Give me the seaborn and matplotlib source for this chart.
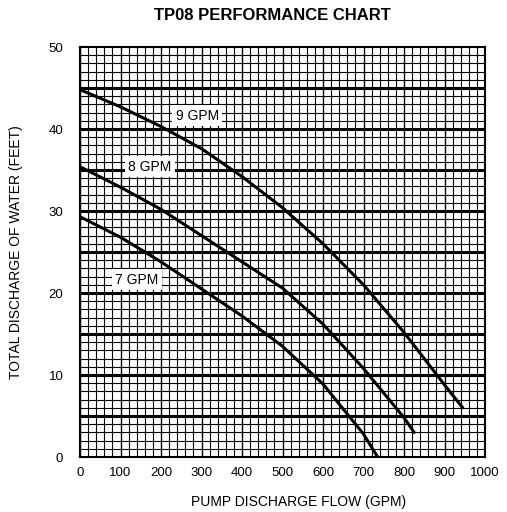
import pandas as pd
import numpy as np
import seaborn as sns
import matplotlib.pyplot as plt
from matplotlib.ticker import MultipleLocator

sns.set_style('white')
plt.rcParams['font.family'] = ['Liberation Sans', 'DejaVu Sans']
plt.rcParams['text.color'] = 'black'
plt.rcParams['axes.labelcolor'] = 'black'
plt.rcParams['xtick.color'] = 'black'
plt.rcParams['ytick.color'] = 'black'

# pump curves: flow (GPM) vs head (FEET)
flow_9 = [0, 100, 200, 300, 400, 500, 600, 700, 800, 900, 945]
head_9 = [44.8, 42.7, 40.3, 37.6, 34.2, 30.4, 26.0, 21.0, 15.2, 8.8, 6.0]
flow_8 = [0, 100, 200, 300, 400, 500, 600, 700, 800, 825]
head_8 = [35.4, 32.9, 30.2, 27.0, 23.8, 20.6, 16.2, 10.8, 4.8, 3.0]
flow_7 = [0, 100, 200, 300, 400, 500, 600, 700, 735]
head_7 = [29.3, 26.8, 23.8, 20.5, 17.2, 13.5, 8.9, 2.8, 0.0]

curve_names = ['9 GPM', '8 GPM', '7 GPM']
x_ticks = list(range(0, 1001, 100))
y_ticks = list(range(0, 51, 10))

frames = []
for name, f, h in zip(curve_names, [flow_9, flow_8, flow_7], [head_9, head_8, head_7]):
    frames.append(pd.DataFrame({'flow': f, 'head': h, 'curve': name}))
df = pd.concat(frames, ignore_index=True)

fig = plt.figure(figsize=(5.07, 5.12), dpi=100)
ax = fig.add_axes([80/507, 1 - 457/512, 405/507, 410/512])

# graph paper grid
ax.xaxis.set_minor_locator(MultipleLocator(20))
ax.yaxis.set_minor_locator(MultipleLocator(1))
ax.grid(which='minor', color='black', lw=0.8)
ax.grid(which='major', axis='x', color='black', lw=1.0)
for yy in range(5, 50, 5):
    ax.axhline(yy, color='black', lw=2.2, zorder=1)
ax.set_axisbelow(True)

sns.lineplot(data=df, x='flow', y='head', units='curve', estimator=None,
             color='black', lw=2.2, sort=False, ax=ax, zorder=3)

# curve labels on white patches
label_pos = {'9 GPM': (290, 41.6), '8 GPM': (172, 35.4), '7 GPM': (140, 21.6)}
for name in curve_names:
    x, y = label_pos[name]
    ax.text(x, y, name, ha='center', va='center', fontsize=10, zorder=4,
            bbox=dict(facecolor='white', edgecolor='none', pad=2.5))

ax.set_xlim(0, 1000)
ax.set_ylim(0, 50)
ax.set_xticks(x_ticks)
ax.set_yticks(y_ticks)
ax.tick_params(axis='both', which='both', length=0, labelsize=9.5)
ax.tick_params(axis='y', pad=12)
ax.tick_params(axis='x', pad=7)
for s in ax.spines.values():
    s.set_color('black')
    s.set_linewidth(1.5)

ax.set_xlabel('PUMP DISCHARGE FLOW (GPM)', fontsize=10)
ax.set_ylabel('TOTAL DISCHARGE OF WATER (FEET)', fontsize=10, labelpad=18)
ax.xaxis.set_label_coords(0.54, -0.092)

fig.text(272/507, 1 - 16/512, 'TP08 PERFORMANCE CHART', ha='center', va='center',
         fontsize=12, fontweight='bold')

fig.savefig('out.png', dpi=100, facecolor='white')
